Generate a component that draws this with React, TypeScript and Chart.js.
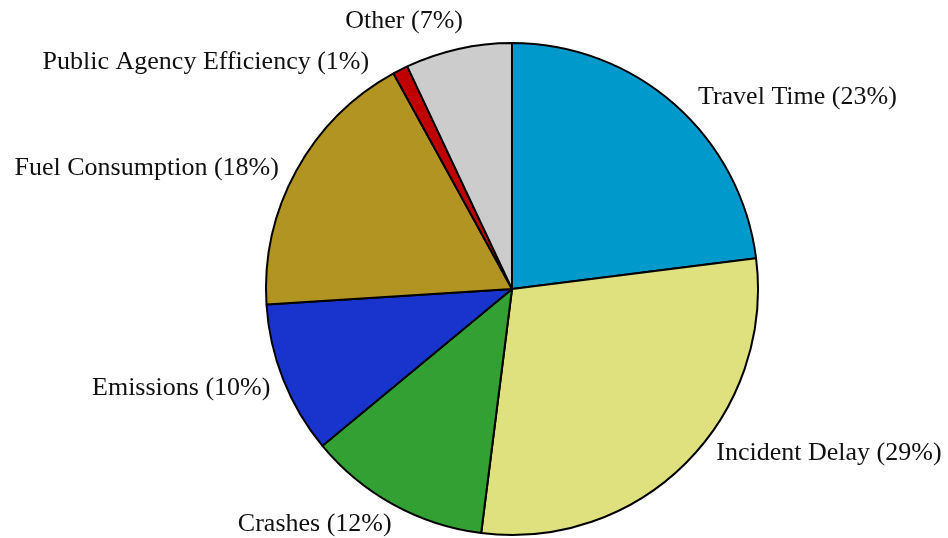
import React, { useEffect, useRef } from "react";
import { Chart, registerables } from "chart.js";

Chart.register(...registerables);

const categories = [
  "Travel Time",
  "Incident Delay",
  "Crashes",
  "Emissions",
  "Fuel Consumption",
  "Public Agency Efficiency",
  "Other",
];
const shares = [23, 29, 12, 10, 18, 1, 7];
const sliceColors = [
  "#0099cc",
  "#dee17e",
  "#33a033",
  "#1934cc",
  "#b29423",
  "#c00000",
  "#cccccc",
];

// small hand nudges (px) for label placement, like a manually tuned figure
const labelNudgeX = [7, 13, 10, 10, 4, -20, 10];
const labelNudgeY = [11, -27, -2, 0, 10, 14, -4];

const labelPlugin = {
  id: "outerLabels",
  afterDraw(chart: any) {
    const ctx = chart.ctx;
    const meta = chart.getDatasetMeta(0);
    ctx.save();
    ctx.font = '26px "Liberation Serif", serif';
    ctx.fillStyle = "#111";
    ctx.textBaseline = "middle";
    meta.data.forEach((arc: any, i: number) => {
      const p = arc.getProps(["x", "y", "startAngle", "endAngle", "outerRadius"], true);
      const mid = (p.startAngle + p.endAngle) / 2;
      const r = p.outerRadius * 1.1;
      const lx = p.x + Math.cos(mid) * r + labelNudgeX[i];
      const ly = p.y + Math.sin(mid) * r + labelNudgeY[i];
      ctx.textAlign = Math.cos(mid) >= 0 ? "left" : "right";
      ctx.fillText(`${categories[i]} (${shares[i]}%)`, lx, ly);
    });
    ctx.restore();
  },
};

export default function App() {
  const ref = useRef<HTMLCanvasElement>(null);
  useEffect(() => {
    document.body.style.margin = "0";
    const chart = new Chart(ref.current!, {
      type: "pie",
      data: {
        labels: categories,
        datasets: [
          {
            data: shares,
            backgroundColor: sliceColors,
            borderColor: "#000",
            borderWidth: 2,
            borderAlign: "center",
          },
        ],
      },
      options: {
        responsive: false,
        animation: false,
        layout: { padding: { top: 42, bottom: 2, left: 265, right: 189 } },
        plugins: {
          legend: { display: false },
          tooltip: { enabled: false },
        },
      },
      plugins: [labelPlugin],
    });
    return () => chart.destroy();
  }, []);
  return (
    <div style={{ width: 948, height: 538, background: "#fff" }}>
      <canvas ref={ref} width={948} height={538} />
    </div>
  );
}
